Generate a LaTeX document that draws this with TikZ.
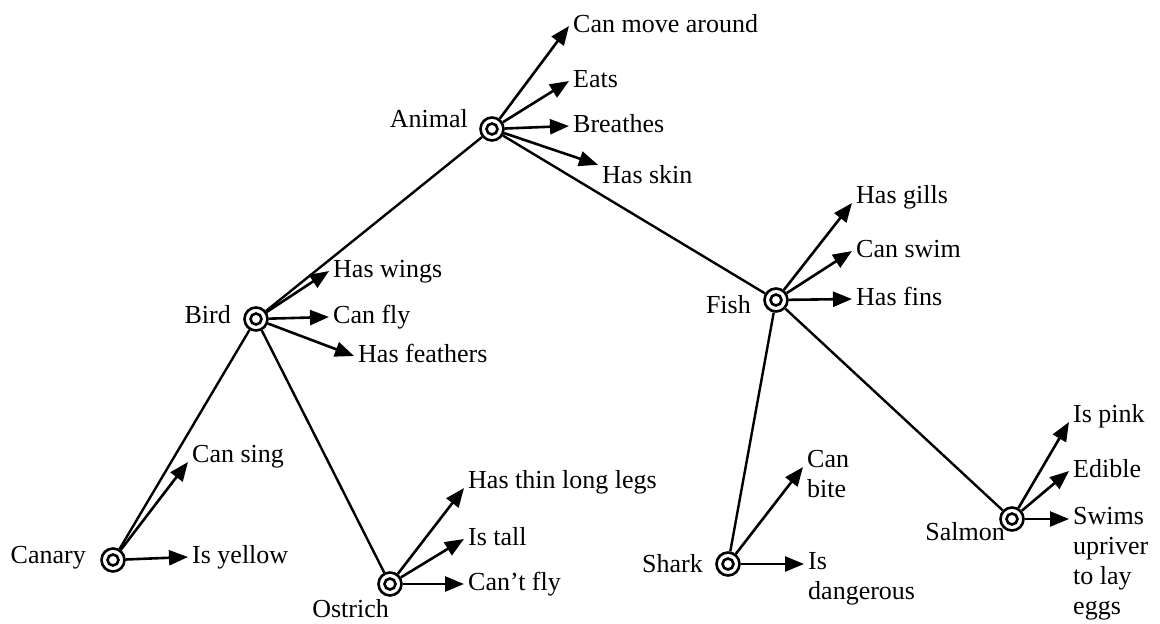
\documentclass[tikz,border=0pt]{standalone}
\usepackage{fontspec}
\setmainfont{Liberation Serif}
\usetikzlibrary{arrows.meta}
\begin{document}
\begin{tikzpicture}[x=1pt,y=-1pt,
  concept/.style={circle,draw,line width=2.6pt,minimum size=23pt,inner sep=0pt,
    path picture={\draw[line width=2.6pt] (path picture bounding box.center) circle[radius=5.5pt];}},
  clabel/.style={anchor=base east,inner sep=0pt,font=\fontsize{26}{30}\selectfont},
  prop/.style={anchor=base west,inner xsep=4pt,inner ysep=0pt,text height=18pt,text depth=6pt,font=\fontsize{26}{30}\selectfont},
  mprop/.style={anchor=north west,inner xsep=4pt,inner ysep=0pt,align=left,font=\fontsize{26}{30}\selectfont},
  link/.style={line width=2.4pt},
  has/.style={line width=2.6pt,-{Triangle[length=19pt,width=15pt]}}]
\useasboundingbox (0,0) rectangle (1160,624);

% concept nodes
\node[concept] (animal)  at (492,129) {};
\node[concept] (bird)    at (256,319) {};
\node[concept] (canary)  at (113,560) {};
\node[concept] (ostrich) at (390,584) {};
\node[concept] (fish)    at (776,300) {};
\node[concept] (shark)   at (728,564) {};
\node[concept] (salmon)  at (1012,519) {};

% concept labels
\node[clabel] (animalL)  at (468,127) {Animal};
\node[clabel] (birdL)    at (231,323) {Bird};
\node[clabel] (canaryL)  at (86,563) {Canary};
\node[clabel] (ostrichL) at (389,617) {Ostrich};
\node[clabel] (fishL)    at (751,313) {Fish};
\node[clabel] (sharkL)   at (703,572) {Shark};
\node[clabel] (salmonL)  at (1005,540) {Salmon};

% property texts
\node[prop] (move)     at (569,32)  {Can move around};
\node[prop] (eats)     at (569,87)  {Eats};
\node[prop] (breathes) at (569,132) {Breathes};
\node[prop] (skin)     at (598,183) {Has skin};
\node[prop] (wings)    at (329,277) {Has wings};
\node[prop] (fly)      at (329,323) {Can fly};
\node[prop] (feathers) at (354,362) {Has feathers};
\node[prop] (sing)     at (188,462) {Can sing};
\node[prop] (yellow)   at (188,563) {Is yellow};
\node[prop] (legs)     at (464,488) {Has thin long legs};
\node[prop] (tall)     at (464,545) {Is tall};
\node[prop] (cantfly)  at (464,590) {Can’t fly};
\node[prop] (gills)    at (852,203) {Has gills};
\node[prop] (swim)     at (852,257) {Can swim};
\node[prop] (fins)     at (852,305) {Has fins};
\node[mprop] (bite)    at (803,450) {Can\\bite};
\node[mprop] (danger)  at (804,552) {Is\\dangerous};
\node[prop] (pink)     at (1069,422) {Is pink};
\node[prop] (edible)   at (1069,477) {Edible};
\node[mprop] (swims)   at (1069,507) {Swims\\upriver\\to lay\\eggs};

% hierarchy links
\draw[link] (animal) -- (bird);
\draw[link] (animal) -- (fish);
\draw[link] (bird) -- (canary);
\draw[link] (bird) -- (ostrich);
\draw[link] (fish) -- (shark);
\draw[link] (fish) -- (salmon);

% property arrows
\draw[has] (animal) -- (move.west);
\draw[has] (animal) -- (eats.west);
\draw[has] (animal) -- (breathes.west);
\draw[has] (animal) -- (skin.north west);
\draw[has] (bird) -- (wings.west);
\draw[has] (bird) -- (fly.west);
\draw[has] (bird) -- (feathers.west);
\draw[has] (canary) -- (sing.base west);
\draw[has] (canary) -- (yellow.west);
\draw[has] (ostrich) -- (legs.base west);
\draw[has] (ostrich) -- (tall.west);
\draw[has] (ostrich) -- (cantfly.west);
\draw[has] (fish) -- (gills.base west);
\draw[has] (fish) -- (swim.west);
\draw[has] (fish) -- (fins.west);
\draw[has] (shark) -- ([yshift=-17pt]bite.north west);
\draw[has] (shark) -- (shark -| danger.west);
\draw[has] (salmon) -- (pink.base west);
\draw[has] (salmon) -- (edible.west);
\draw[has] (salmon) -- (salmon -| swims.west);
\end{tikzpicture}
\end{document}
